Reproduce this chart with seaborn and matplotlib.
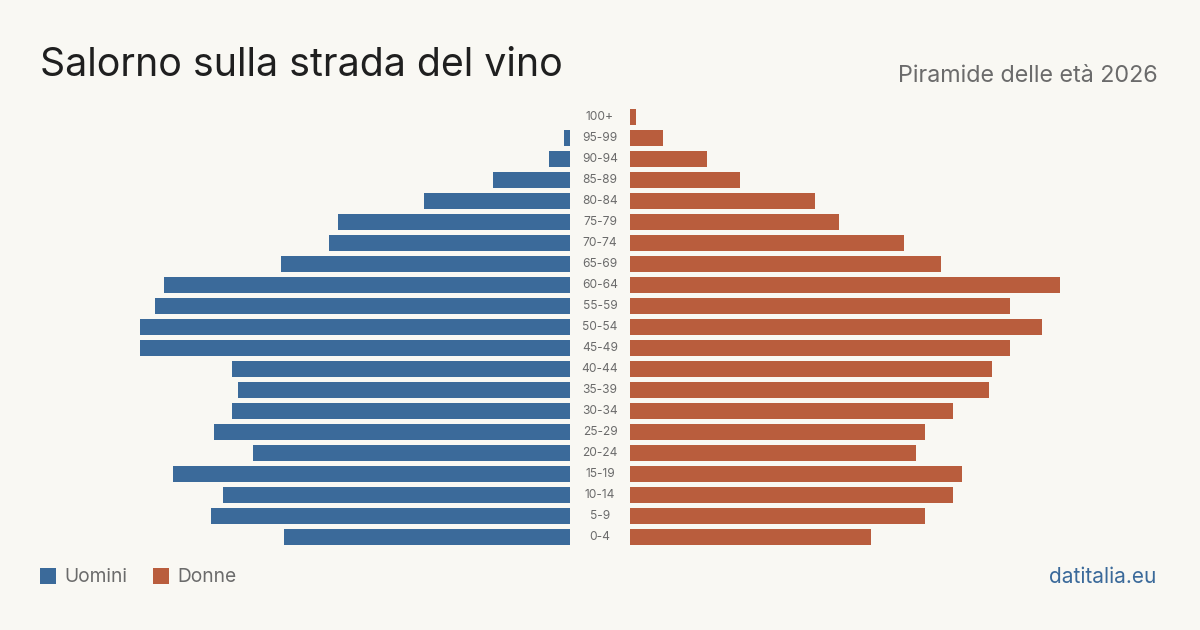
import matplotlib
matplotlib.use("Agg")
import matplotlib.pyplot as plt
import matplotlib.transforms as mtransforms
from matplotlib.patches import Rectangle
import seaborn as sns
import pandas as pd

ages = ["100+", "95-99", "90-94", "85-89", "80-84", "75-79", "70-74", "65-69", "60-64",
        "55-59", "50-54", "45-49", "40-44", "35-39", "30-34", "25-29", "20-24", "15-19",
        "10-14", "5-9", "0-4"]
men = [0, 2, 7, 25.5, 48.5, 77, 80, 96, 135, 138, 143, 143, 112.5, 110.5, 112.5, 118.5, 105.5, 132, 115.5, 119.5, 95]
women = [2, 11, 25.5, 36.5, 61.5, 69.5, 91, 103.5, 143, 126.5, 137, 126.5, 120.5, 119.5, 107.5, 98, 95, 110.5, 107.5, 98, 80]

BG = "#f9f8f3"
BLUE = "#3b6a9a"
RED = "#b95d3d"
GREY = "#6b6b6b"

sns.set_theme(style="white")
plt.rcParams["font.family"] = ["Inter", "DejaVu Sans"]

df = pd.DataFrame({"age": ages, "men": men, "women": women})

W, H = 1200, 630
fig = plt.figure(figsize=(12, 6.3), dpi=100, facecolor=BG)

top_px, bot_px = 106.5, 547.5
axL = fig.add_axes([100 / W, 1 - bot_px / H, 470 / W, (bot_px - top_px) / H])
axR = fig.add_axes([630 / W, 1 - bot_px / H, 470 / W, (bot_px - top_px) / H])

sns.barplot(data=df, y="age", x="men", ax=axL, color=BLUE, width=0.8, saturation=1, orient="h")
sns.barplot(data=df, y="age", x="women", ax=axR, color=RED, width=0.8, saturation=1, orient="h")

xmax = max(max(men), max(women)) * 470 / 430
axL.set_xlim(xmax, 0)
axR.set_xlim(0, xmax)
for ax in (axL, axR):
    ax.set_facecolor(BG)
    ax.set_ylim(len(ages) - 0.5, -0.5)
    ax.axis("off")
    for p in ax.patches:
        p.set_edgecolor("none")
        p.set_linewidth(0)

trans = mtransforms.blended_transform_factory(fig.transFigure, axR.transData)
for i, a in enumerate(ages):
    fig.text(600 / W, i, a, transform=trans, ha="center", va="center", fontsize=8.6, color=GREY)

fig.text(40 / W, 1 - 66 / H, "Salorno sulla strada del vino", fontsize=28.3, color="#1f1f1f",
         ha="left", va="center")
fig.text(1158 / W, 1 - 76 / H, "Piramide delle età 2026", fontsize=16.8, color=GREY,
         ha="right", va="center")

# legend
for x0, lab, col in [(40, "Uomini", BLUE), (153, "Donne", RED)]:
    fig.patches.append(Rectangle((x0 / W, 1 - 584 / H), 16 / W, 16 / H, transform=fig.transFigure,
                                 facecolor=col, edgecolor="none"))
    fig.text((x0 + 24) / W, 1 - 577 / H, lab, fontsize=13.8, color=GREY, ha="left", va="center")

fig.text(1156 / W, 1 - 577 / H, "datitalia.eu", fontsize=15, color=BLUE, ha="right", va="center")

fig.savefig("out.png", dpi=100, facecolor=BG)
